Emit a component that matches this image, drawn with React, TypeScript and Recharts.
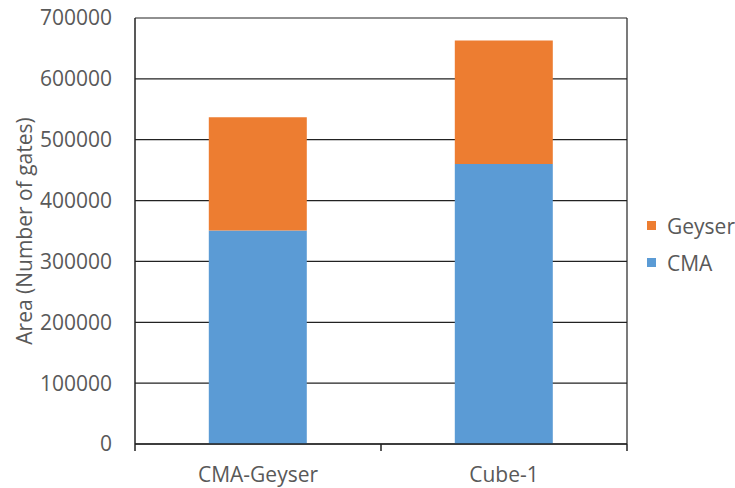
import { BarChart, Bar, XAxis, YAxis, CartesianGrid, Legend } from 'recharts';

const categories = ['CMA-Geyser', 'Cube-1'];
const cmaValues = [351000, 460000];
const geyserValues = [186000, 203000];
const yTicks = [0, 100000, 200000, 300000, 400000, 500000, 600000, 700000];

const FONT = '"Open Sans", sans-serif';
const TEXT = '#595959';
const LINE = '#222';
const colors: Record<string, string> = { CMA: '#5B9BD5', Geyser: '#ED7D31' };

function LegendBox({ payload }: any) {
  const items = [...(payload || [])].reverse();
  return (
    <div style={{ paddingLeft: 20, fontFamily: FONT, fontSize: 21, color: TEXT }}>
      {items.map((it: any) => (
        <div key={it.value} style={{ display: 'flex', alignItems: 'center', height: 37 }}>
          <span
            style={{
              width: 9,
              height: 9,
              flexShrink: 0,
              background: colors[it.value],
              marginRight: 11,
              display: 'inline-block',
            }}
          />
          <span>{it.value}</span>
        </div>
      ))}
    </div>
  );
}

// category label plus the boundary tick marks between categories
function CategoryTick(props: any) {
  const { x, y, payload, index, visibleTicksCount } = props;
  const half = payload.offset || 0;
  const axisY = y - 23;
  const last = index === visibleTicksCount - 1;
  return (
    <g>
      <line x1={x - half} x2={x - half} y1={axisY} y2={axisY + 7} stroke={LINE} strokeWidth={1.5} />
      {last && <line x1={x + half} x2={x + half} y1={axisY} y2={axisY + 7} stroke={LINE} strokeWidth={1.5} />}
      <text x={x} y={y} dy="0.71em" textAnchor="middle" fill={TEXT} fontSize={21}>
        {payload.value}
      </text>
    </g>
  );
}

export default function App() {
  const data = categories.map((name, i) => ({
    name,
    CMA: cmaValues[i],
    Geyser: geyserValues[i],
  }));

  return (
    <div style={{ position: 'absolute', left: 0, top: 0, background: '#fff' }}>
      <BarChart
        width={735}
        height={488}
        data={data}
        margin={{ top: 18, right: 8, bottom: 0, left: 0 }}
        barCategoryGap="30%"
        style={{ fontFamily: FONT }}
      >
        <CartesianGrid
          stroke={LINE}
          strokeWidth={1.2}
          verticalCoordinatesGenerator={({ offset }: any) => [offset.left + offset.width]}
        />
        <XAxis
          dataKey="name"
          height={44}
          tickLine={false}
          tickSize={0}
          tickMargin={23}
          axisLine={{ stroke: LINE, strokeWidth: 1.5 }}
          tick={<CategoryTick />}
        />
        <YAxis
          width={135}
          domain={[0, 700000]}
          ticks={yTicks}
          interval={0}
          tickLine={false}
          tickSize={0}
          tickMargin={23}
          axisLine={{ stroke: LINE, strokeWidth: 1.5 }}
          tick={{ fill: TEXT, fontSize: 21 }}
          label={{
            value: 'Area (Number of gates)',
            angle: -90,
            position: 'center',
            dx: -43,
            fill: TEXT,
            fontSize: 21,
          }}
        />
        <Legend
          layout="vertical"
          align="right"
          verticalAlign="middle"
          width={100}
          content={<LegendBox />}
        />
        <Bar dataKey="CMA" stackId="a" fill={colors.CMA} isAnimationActive={false} />
        <Bar dataKey="Geyser" stackId="a" fill={colors.Geyser} isAnimationActive={false} />
      </BarChart>
    </div>
  );
}
